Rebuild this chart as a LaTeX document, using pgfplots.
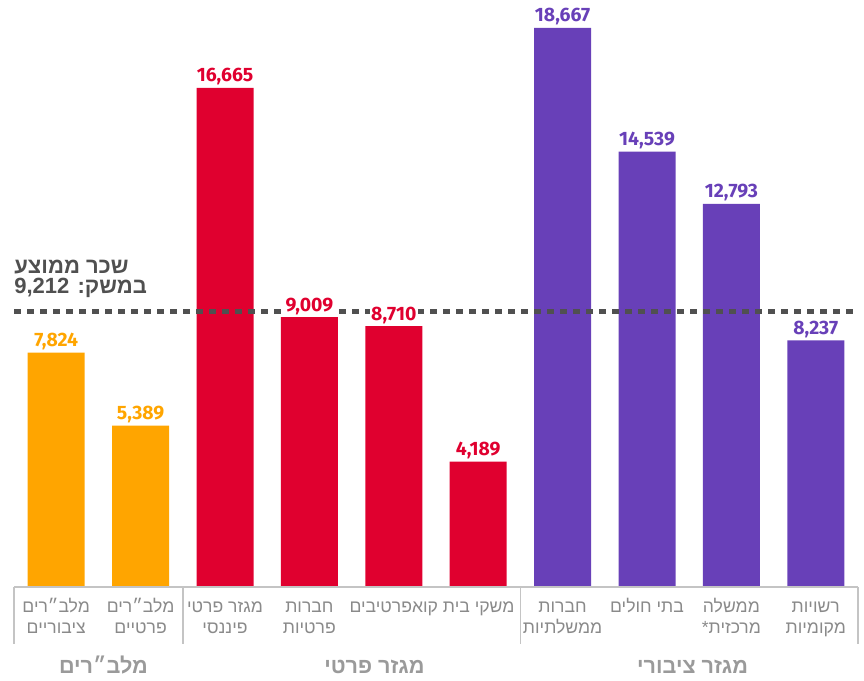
\documentclass[border=0pt]{standalone}
\usepackage{fontspec}
\setmainfont{Liberation Sans}
\newfontfamily\heb[Script=Hebrew]{Liberation Sans}
\newfontfamily\numf{Fira Sans}
\usepackage{pgfplots}
\pgfplotsset{compat=1.18}
\TeXXeTstate=1
\definecolor{cOr}{HTML}{FFA500}
\definecolor{cRed}{HTML}{E0002F}
\definecolor{cPur}{HTML}{6840B8}
\definecolor{cAvg}{HTML}{505050}
\definecolor{cLab}{HTML}{8A8A8A}
\definecolor{cGrp}{HTML}{9A9A9A}
\definecolor{cBr}{HTML}{C4C4C4}
\tikzset{labA/.style={font=\heb\fontsize{8.8}{10}\selectfont, text=cLab, anchor=base, inner sep=0, yshift=-13pt},
  labB/.style={font=\heb\fontsize{8.8}{10}\selectfont, text=cLab, anchor=base, inner sep=0, yshift=-23.5pt},
  grp/.style={font=\heb\bfseries\fontsize{10.8}{12}\selectfont, text=cGrp, anchor=base, inner sep=0, yshift=-43.5pt},
  avg/.style={anchor=base west, inner sep=0, font=\heb\bfseries\fontsize{11}{12}\selectfont, text=cAvg}}
\begin{document}
\begin{tikzpicture}
\useasboundingbox (0,0) rectangle (432pt,340.5pt);
\begin{axis}[at={(7pt,47pt)}, anchor=south west, scale only axis,
  width=422pt, height=293.5pt, xmin=0.5, xmax=10.5, ymin=0, ymax=19600,
  axis lines=none, clip=false, ybar, bar width=28.5pt, bar shift=0pt,
  lab/.style={draw=none, fill=none, nodes near coords, point meta=explicit symbolic,
    every node near coord/.append style={anchor=base, yshift=3pt, inner sep=0pt,
      font=\numf\bfseries\fontsize{9.7}{10}\selectfont, text=#1}}]
\addplot[fill=cOr, draw=none] coordinates {(1,7824)(2,5389)};
\addplot[fill=cRed, draw=none] coordinates {(3,16665)(4,9009)(5,8710)(6,4189)};
\addplot[fill=cPur, draw=none] coordinates {(7,18667)(8,14539)(9,12793)(10,8237)};
\addplot[sharp plot, draw=cAvg, line width=2.5pt, dash pattern=on 3.5pt off 3pt] coordinates {(0.5,9212)(10.5,9212)};
\addplot[lab=cOr] coordinates {(1,7824)[7{,}824] (2,5389)[5{,}389]};
\addplot[lab=cRed] coordinates {(3,16665)[16{,}665] (6,4189)[4{,}189]};
\addplot[lab=cRed, every node near coord/.append style={fill=white, inner xsep=0.6pt, inner ysep=1.2pt}] coordinates {(4,9009)[9{,}009] (5,8710)[8{,}710]};
\addplot[lab=cPur] coordinates {(7,18667)[18{,}667] (8,14539)[14{,}539] (9,12793)[12{,}793] (10,8237)[8{,}237]};
\draw[cBr, line width=0.75pt] (axis cs:0.5,0) -- (axis cs:10.5,0);
\draw[cBr, line width=0.75pt] (axis cs:0.5,0) -- (axis cs:0.5,-1903);
\draw[cBr, line width=0.75pt] (axis cs:2.5,0) -- (axis cs:2.5,-1903);
\draw[cBr, line width=0.75pt] (axis cs:6.5,0) -- (axis cs:6.5,-1903);
\draw[cBr, line width=0.75pt] (axis cs:10.5,0) -- (axis cs:10.5,-1903);
\node[labA] at (axis cs:1,0) {\beginR מלב״רים\endR};
\node[labB] at (axis cs:1,0) {\beginR ציבוריים\endR};
\node[labA] at (axis cs:2,0) {\beginR מלב״רים\endR};
\node[labB] at (axis cs:2,0) {\beginR פרטיים\endR};
\node[labA] at (axis cs:3,0) {\beginR מגזר פרטי\endR};
\node[labB] at (axis cs:3,0) {\beginR פיננסי\endR};
\node[labA] at (axis cs:4,0) {\beginR חברות\endR};
\node[labB] at (axis cs:4,0) {\beginR פרטיות\endR};
\node[labA] at (axis cs:5.453,0) {\beginR משקי בית קואפרטיבים\endR};
\node[labA] at (axis cs:7,0) {\beginR חברות\endR};
\node[labB] at (axis cs:7,0) {\beginR ממשלתיות\endR};
\node[labA] at (axis cs:8,0) {\beginR בתי חולים\endR};
\node[labA] at (axis cs:9,0) {\beginR ממשלה\endR};
\node[labB] at (axis cs:9,0) {\beginR מרכזית*\endR};
\node[labA] at (axis cs:10,0) {\beginR רשויות\endR};
\node[labB] at (axis cs:10,0) {\beginR מקומיות\endR};
\node[grp] at (axis cs:1.56,0) {\beginR מלב״רים\endR};
\node[grp] at (axis cs:4.77,0) {\beginR מגזר פרטי\endR};
\node[grp] at (axis cs:8.54,0) {\beginR מגזר ציבורי\endR};
\node[avg] at (axis cs:0.5,9212) [yshift=19pt] {\beginR שכר ממוצע\endR};
\node[avg] at (axis cs:0.5,9212) [yshift=9pt] {\beginR במשק: \beginL9,212\endL\endR};
\end{axis}
\end{tikzpicture}
\end{document}
